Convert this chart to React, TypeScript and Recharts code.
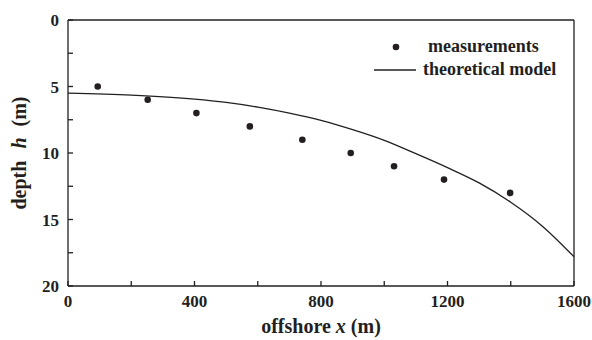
import React from 'react';
import { ComposedChart, Line, Scatter, XAxis, YAxis, Legend, ReferenceLine } from 'recharts';

// measured points (offshore distance in m, depth in m)
const measuredX = [94, 252, 406, 575, 741, 894, 1031, 1189, 1398];
const measuredDepth = [5, 6, 7, 8, 9, 10, 11, 12, 13];

// theoretical model curve
const modelX = [0, 200, 400, 500, 600, 700, 800, 900, 1000, 1100, 1200, 1300, 1400, 1500, 1600];
const modelDepth = [5.5, 5.65, 5.95, 6.2, 6.55, 7.0, 7.55, 8.25, 9.05, 10.05, 11.1, 12.25, 13.7, 15.5, 17.8];

const xTicks = [0, 200, 400, 600, 800, 1000, 1200, 1400, 1600];
const yTicks = [0, 2.5, 5, 7.5, 10, 12.5, 15, 17.5, 20];

const measured = measuredX.map((x, i) => ({ x, depth: measuredDepth[i] }));
const model = modelX.map((x, i) => ({ x, depth: modelDepth[i] }));

const font = '"Liberation Serif", "Times New Roman", serif';
const tickStyle = { fontFamily: font, fontSize: 17, fontWeight: 700, fill: '#231f20' };

const majorX = (v: number) => (v % 400 === 0 ? String(v) : '');
const majorY = (v: number) => (v % 5 === 0 ? String(v) : '');

const XLabel = (props: any) => {
  const { x, y, width } = props.viewBox;
  return (
    <text x={x + width / 2} y={y + 47} textAnchor="middle" fontFamily={font} fontSize={20} fontWeight={700} fill="#231f20">
      offshore <tspan fontStyle="italic">x</tspan> (m)
    </text>
  );
};

const YLabel = (props: any) => {
  const { x, y, width, height } = props.viewBox;
  const cx = x + width - 42;
  const cy = y + height / 2;
  return (
    <text x={cx} y={cy} transform={`rotate(-90 ${cx} ${cy})`} textAnchor="middle" fontFamily={font} fontSize={20} fontWeight={700} fill="#231f20">
      depth<tspan dx={12} fontStyle="italic">h</tspan><tspan dx={11}>(m)</tspan>
    </text>
  );
};

const LegendBox = () => (
  <div style={{ fontFamily: font, fontSize: 18, fontWeight: 700, color: '#231f20', lineHeight: '23px' }}>
    <div style={{ display: 'flex', alignItems: 'center' }}>
      <svg width={54} height={12}>
        <circle cx={22} cy={6} r={3.3} fill="#231f20" />
      </svg>
      <span>measurements</span>
    </div>
    <div style={{ display: 'flex', alignItems: 'center' }}>
      <svg width={49} height={12}>
        <line x1={0} y1={6} x2={42} y2={6} stroke="#231f20" strokeWidth={1.3} />
      </svg>
      <span>theoretical model</span>
    </div>
  </div>
);

export default function App() {
  return (
    <div style={{ position: 'absolute', left: 0, top: 0, width: 592, height: 340, background: '#fff' }}>
      <ComposedChart width={592} height={340} data={model} margin={{ top: 20, right: 18, bottom: 0, left: 0 }}>
        <XAxis
          dataKey="x"
          type="number"
          domain={[0, 1600]}
          ticks={xTicks}
          tickFormatter={majorX}
          interval={0}
          height={54}
          tickSize={-5}
          tickMargin={14}
          stroke="#231f20"
          strokeWidth={1.3}
          tick={tickStyle}
          label={<XLabel />}
        />
        <XAxis xAxisId="top" orientation="top" type="number" domain={[0, 1600]} ticks={xTicks} interval={0} height={0} tickSize={-5} tick={false} stroke="#231f20" strokeWidth={1.3} />
        <YAxis
          dataKey="depth"
          type="number"
          reversed
          domain={[0, 20]}
          ticks={yTicks}
          tickFormatter={majorY}
          interval={0}
          width={68}
          tickSize={-5}
          tickMargin={14}
          stroke="#231f20"
          strokeWidth={1.3}
          tick={tickStyle}
          label={<YLabel />}
        />
        <YAxis yAxisId="right" orientation="right" type="number" reversed domain={[0, 20]} ticks={yTicks} interval={0} width={0} tickSize={-5} tick={false} stroke="#231f20" strokeWidth={1.3} />
        <ReferenceLine x={1600} stroke="#231f20" strokeWidth={1.3} />
        <ReferenceLine y={0} stroke="#231f20" strokeWidth={1.3} />
        <Legend
          layout="horizontal"
          verticalAlign="middle"
          align="center"
          content={<LegendBox />}
          wrapperStyle={{ position: 'absolute', left: 374, top: 35, width: 'auto' }}
        />
        <Line dataKey="depth" type="monotone" stroke="#231f20" strokeWidth={1.3} dot={false} activeDot={false} isAnimationActive={false} legendType="line" />
        <Scatter data={measured} dataKey="depth" fill="#231f20" shape={(p: any) => <circle cx={p.cx} cy={p.cy} r={3.3} fill="#231f20" />} isAnimationActive={false} />
      </ComposedChart>
    </div>
  );
}
